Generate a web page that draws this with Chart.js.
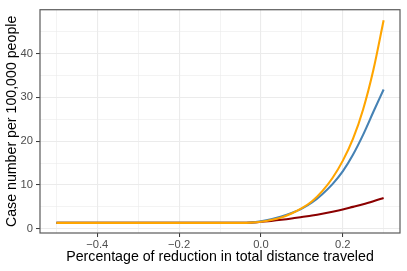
<!DOCTYPE html>
<html>
<head>
<meta charset="utf-8">
<script src="https://cdn.jsdelivr.net/npm/chart.js@4"></script>
<style>
  html, body { margin: 0; padding: 0; background: #fff; }
  #wrap { width: 407px; height: 271px; }
</style>
</head>
<body>
<div id="wrap"><canvas id="curveChart" width="407" height="271"></canvas></div>
<script>
// reduction in distance traveled (x) and cases per 100,000 for each curve
const reduction = [-0.5, -0.4, -0.3, -0.2, -0.1, -0.05, -0.025, 0, 0.025, 0.05, 0.075, 0.1, 0.125, 0.15, 0.175, 0.2, 0.225, 0.25, 0.275, 0.3];
const casesOrange = [1.35, 1.35, 1.35, 1.35, 1.35, 1.35, 1.4, 1.6, 2.0, 2.6, 3.5, 4.7, 6.3, 8.6, 11.6, 15.5, 20.5, 27.3, 36.3, 47.6];
const casesBlue = [1.35, 1.35, 1.35, 1.35, 1.35, 1.35, 1.42, 1.7, 2.15, 2.8, 3.6, 4.6, 6.0, 7.9, 10.2, 13.1, 16.9, 21.5, 26.7, 31.8];
const casesRed = [1.35, 1.35, 1.35, 1.35, 1.35, 1.35, 1.4, 1.6, 1.8, 2.05, 2.35, 2.7, 3.05, 3.45, 3.9, 4.4, 5.0, 5.6, 6.3, 7.05];

// axis ticks
const xGridTicks = [-0.5, -0.4, -0.3, -0.2, -0.1, 0, 0.1, 0.2, 0.3];
const xLabelTicks = [-0.4, -0.2, 0, 0.2];
const yGridTicks = [0, 5, 10, 15, 20, 25, 30, 35, 40, 45];
const yLabelTicks = [0, 10, 20, 30, 40];

function isMajor(v, list) {
    return list.some(m => Math.abs(m - v) < 1e-9);
}

function toPoints(ys) {
    return reduction.map((x, i) => ({ x: x, y: ys[i] }));
}

//draws the grey box round the panel
const panelBox = {
    id: 'panelBox',
    afterDraw(chart) {
        const a = chart.chartArea;
        const c = chart.ctx;
        c.save();
        c.strokeStyle = '#5a5a5a';
        c.lineWidth = 1.2;
        c.strokeRect(a.left, a.top, a.right - a.left, a.bottom - a.top);
        c.restore();
    }
};

const lineStyle = { borderWidth: 2.1, pointRadius: 0, fill: false, cubicInterpolationMode: 'monotone' };

const ctx = document.getElementById('curveChart').getContext('2d');
new Chart(ctx, {
    type: 'line',
    data: {
        datasets: [
            Object.assign({ label: 'orange', data: toPoints(casesOrange), borderColor: '#FFA500' }, lineStyle),
            Object.assign({ label: 'blue', data: toPoints(casesBlue), borderColor: '#4682B4' }, lineStyle),
            Object.assign({ label: 'red', data: toPoints(casesRed), borderColor: '#8B0000' }, lineStyle)
        ]
    },
    options: {
        responsive: false,
        animation: false,
        layout: { padding: { left: 0, top: 5, right: 7, bottom: 0 } },
        plugins: { legend: { display: false }, tooltip: { enabled: false } },
        scales: {
            x: {
                type: 'linear',
                min: -0.54,
                max: 0.34,
                afterBuildTicks: s => { s.ticks = xGridTicks.map(v => ({ value: v })); },
                afterFit: s => { s.height = 38; },
                border: { display: false },
                grid: {
                    color: '#EBEBEB',
                    lineWidth: c => isMajor(c.tick.value, xLabelTicks) ? 1.1 : 0.6,
                    tickColor: c => isMajor(c.tick.value, xLabelTicks) ? '#333333' : 'rgba(0,0,0,0)',
                    tickLength: 4,
                    tickWidth: 1
                },
                ticks: {
                    autoSkip: false,
                    maxRotation: 0,
                    padding: 1.5,
                    color: '#4D4D4D',
                    font: { family: 'Liberation Sans', size: 11.2 },
                    callback: v => isMajor(v, xLabelTicks) ? (v < 0 ? '\u2212' + Math.abs(v).toFixed(1) : v.toFixed(1)) : ''
                },
                title: {
                    display: true,
                    text: 'Percentage of reduction in total distance traveled',
                    color: '#000',
                    font: { family: 'Liberation Sans', size: 14.2 },
                    padding: { top: 0, bottom: 5 }
                }
            },
            y: {
                type: 'linear',
                min: -0.96,
                max: 50.0,
                afterBuildTicks: s => { s.ticks = yGridTicks.map(v => ({ value: v })); },
                afterFit: s => { s.width = 40; },
                border: { display: false },
                grid: {
                    color: '#EBEBEB',
                    lineWidth: c => isMajor(c.tick.value, yLabelTicks) ? 1.1 : 0.6,
                    tickColor: c => isMajor(c.tick.value, yLabelTicks) ? '#333333' : 'rgba(0,0,0,0)',
                    tickLength: 4,
                    tickWidth: 1
                },
                ticks: {
                    autoSkip: false,
                    padding: 3,
                    color: '#4D4D4D',
                    font: { family: 'Liberation Sans', size: 11.2 },
                    callback: v => isMajor(v, yLabelTicks) ? String(v) : ''
                },
                title: {
                    display: true,
                    text: 'Case number per 100,000 people',
                    color: '#000',
                    font: { family: 'Liberation Sans', size: 14.2 },
                    padding: { top: 3.4, bottom: 0 }
                }
            }
        }
    },
    plugins: [panelBox]
});
</script>
</body>
</html>
